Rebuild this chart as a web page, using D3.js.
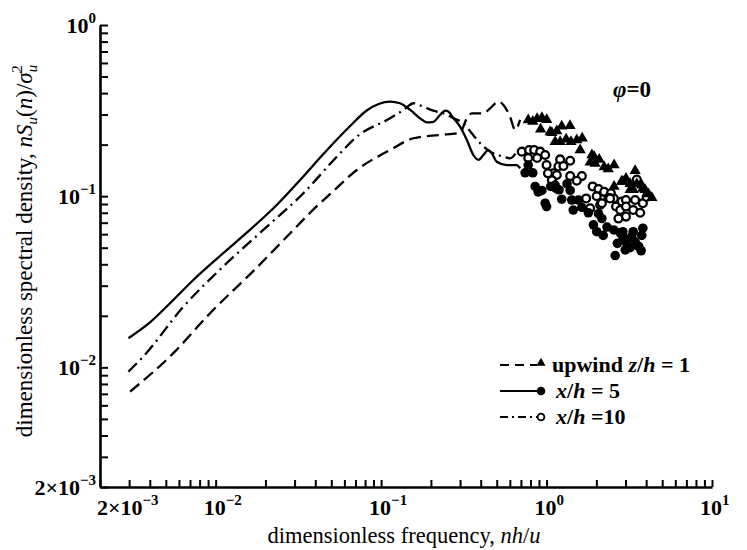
<!DOCTYPE html>
<html>
<head>
<meta charset="utf-8">
<script src="https://cdnjs.cloudflare.com/ajax/libs/d3/7.8.5/d3.min.js"></script>
<style>
  html, body { margin: 0; padding: 0; background: #fff; }
  svg { display: block; }
  text { font-family: "Liberation Serif", "DejaVu Serif", serif; fill: #000; }
</style>
</head>
<body>
<div id="chart"></div>
<script>
// ---- data (x = nh/u, y = nSu(n)/σu²) ----
const upwindLine = [
  [0.00304, 0.00721], [0.00555, 0.0121], [0.00925, 0.0207], [0.0175, 0.0378],
  [0.0282, 0.0607], [0.0372, 0.0800], [0.0515, 0.1072],
  [0.0713, 0.1422], [0.1133, 0.1862], [0.157, 0.218], [0.227, 0.228],
  [0.300, 0.235], [0.330, 0.285], [0.353, 0.305], [0.415, 0.305],
  [0.456, 0.326], [0.512, 0.357], [0.549, 0.341], [0.602, 0.291],
  [0.646, 0.244], [0.692, 0.279]
];
const x5Line = [
  [0.00297, 0.0148], [0.00401, 0.0183], [0.0053, 0.0237], [0.00733, 0.0324],
  [0.0111, 0.0464], [0.0161, 0.0635], [0.0234, 0.0888], [0.0324, 0.1243],
  [0.0448, 0.1764], [0.065, 0.257], [0.0819, 0.3167], [0.0966, 0.3455],
  [0.1133, 0.3565], [0.130, 0.349], [0.150, 0.319], [0.172, 0.285],
  [0.189, 0.270], [0.207, 0.272], [0.227, 0.298], [0.244, 0.316],
  [0.255, 0.312], [0.274, 0.285], [0.300, 0.255], [0.330, 0.213],
  [0.361, 0.174], [0.388, 0.163], [0.415, 0.174], [0.445, 0.186],
  [0.467, 0.178], [0.500, 0.159], [0.575, 0.152], [0.661, 0.152],
  [0.692, 0.1455]
];
const x10Line = [
  [0.00297, 0.00944], [0.00365, 0.01155], [0.00638, 0.0226], [0.0111, 0.0388],
  [0.0194, 0.0635], [0.0339, 0.104], [0.054, 0.170], [0.0713, 0.2226],
  [0.1133, 0.2851], [0.1364, 0.3188], [0.157, 0.349], [0.180, 0.333],
  [0.207, 0.3158], [0.238, 0.305], [0.274, 0.2851], [0.3144, 0.2666],
  [0.353, 0.233], [0.397, 0.2037], [0.456, 0.182], [0.549, 0.170],
  [0.602, 0.1665], [0.661, 0.182]
];
const upwindPts = [
  [0.775, 0.279], [0.826, 0.273], [0.877, 0.283], [0.937, 0.287], [1.003, 0.280],
  [0.921, 0.246], [1.077, 0.235], [1.153, 0.240], [1.235, 0.256], [1.386, 0.258],
  [1.127, 0.208], [1.208, 0.208], [1.313, 0.215], [1.405, 0.208], [1.523, 0.213],
  [1.642, 0.218], [1.596, 0.186], [1.835, 0.158], [1.94, 0.170], [2.08, 0.164],
  [1.967, 0.155], [2.23, 0.148], [2.36, 0.144], [2.56, 0.152], [3.43, 0.141],
  [2.89, 0.122], [3.02, 0.127], [3.20, 0.118], [3.51, 0.118], [3.76, 0.116],
  [3.94, 0.109], [4.13, 0.103], [4.33, 0.098], [2.56, 0.114], [3.34, 0.109],
  [3.20, 0.109], [3.82, 0.111], [2.84, 0.122], [1.051, 0.237], [1.88, 0.174]
];
const x5Pts = [
  [0.775, 0.152], [0.742, 0.137], [0.826, 0.137], [0.853, 0.114], [0.89, 0.106],
  [0.937, 0.108], [1.06, 0.114], [1.14, 0.111], [1.19, 0.109], [1.33, 0.118],
  [1.389, 0.108], [1.235, 0.096], [1.42, 0.095], [1.56, 0.095], [0.981, 0.091],
  [1.00, 0.087], [1.45, 0.083], [1.635, 0.086], [1.79, 0.080], [2.06, 0.079],
  [2.16, 0.074], [1.92, 0.068], [2.01, 0.062], [2.20, 0.059], [2.32, 0.066],
  [2.55, 0.0635], [2.79, 0.061], [2.68, 0.053], [2.89, 0.058], [3.02, 0.054],
  [3.27, 0.058], [3.43, 0.054], [3.60, 0.051], [3.76, 0.059], [3.82, 0.065],
  [3.20, 0.050], [2.99, 0.0485], [2.60, 0.045], [3.73, 0.048], [3.34, 0.062],
  [2.89, 0.062], [1.127, 0.116]
];
const x10Pts = [
  [0.708, 0.182], [0.785, 0.186], [0.842, 0.186], [0.915, 0.182], [0.981, 0.174],
  [0.775, 0.167], [0.877, 0.167], [1.00, 0.152], [1.208, 0.164], [1.389, 0.161],
  [1.18, 0.149], [1.265, 0.150], [1.10, 0.136], [1.153, 0.133], [1.389, 0.131],
  [1.635, 0.131], [1.523, 0.123], [1.077, 0.124], [1.90, 0.114], [2.06, 0.110],
  [2.23, 0.106], [2.45, 0.104], [2.01, 0.100], [2.37, 0.098], [2.55, 0.097],
  [1.735, 0.097], [2.109, 0.089], [1.835, 0.085], [2.63, 0.087], [2.85, 0.093],
  [3.02, 0.095], [3.43, 0.095], [3.82, 0.091], [2.79, 0.083], [3.02, 0.087],
  [3.34, 0.083], [3.68, 0.080], [3.02, 0.076], [2.72, 0.074], [3.51, 0.125],
  [4.03, 0.099], [1.02, 0.136], [2.16, 0.091], [2.42, 0.097]
];
const xTickLabels = [[2e-3, "2×10", "−3"], [1e-2, "10", "−2"], [1e-1, "10", "−1"], [1, "10", "0"], [10, "10", "1"]];
const yTickLabels = [[1, "10", "0"], [1e-1, "10", "−1"], [1e-2, "10", "−2"], [2e-3, "2×10", "−3"]];

const width = 747, height = 550;
const svg = d3.select("#chart").append("svg")
  .attr("width", width).attr("height", height);

const x = d3.scaleLog().domain([2e-3, 10]).range([100, 712]);
const y = d3.scaleLog().domain([2e-3, 1]).range([487, 25]);

// axes (ticks point inward)
const xAxis = svg.append("g")
  .attr("transform", `translate(0,${y(2e-3)})`)
  .call(d3.axisBottom(x).ticks(20).tickSizeInner(-7).tickSizeOuter(0).tickFormat(""));
const yAxis = svg.append("g")
  .attr("transform", `translate(${x(2e-3)},0)`)
  .call(d3.axisLeft(y).ticks(20).tickSizeInner(-8).tickSizeOuter(0).tickFormat(""));
[xAxis, yAxis].forEach(a => {
  a.select(".domain").attr("stroke", "#000").attr("stroke-width", 2.6);
  a.selectAll(".tick line").attr("stroke", "#000").attr("stroke-width", 2);
});

// tick labels with superscripts
xTickLabels.forEach(([v, base, exp], i) => {
  const t = svg.append("text")
    .attr("x", i === 0 ? x(v) - 3 : x(v) - 12)
    .attr("y", 515)
    .attr("font-size", 22).attr("font-weight", "bold");
  t.append("tspan").text(base);
  t.append("tspan").attr("dy", -10).attr("font-size", 15).text(exp);
});
yTickLabels.forEach(([v, base, exp]) => {
  const t = svg.append("text")
    .attr("x", 96)
    .attr("y", y(v) + 8)
    .attr("text-anchor", "end")
    .attr("font-size", 22).attr("font-weight", "bold");
  t.append("tspan").text(base);
  t.append("tspan").attr("dy", -10).attr("font-size", 15).text(exp);
});

// axis titles
const xt = svg.append("text")
  .attr("x", 404).attr("y", 543)
  .attr("text-anchor", "middle").attr("font-size", 22.5);
xt.append("tspan").text("dimensionless frequency, ");
xt.append("tspan").attr("font-style", "italic").text("nh");
xt.append("tspan").text("/");
xt.append("tspan").attr("font-style", "italic").text("u");

const yt = svg.append("text")
  .attr("transform", "translate(32,251) rotate(-90)")
  .attr("text-anchor", "middle").attr("font-size", 23);
yt.append("tspan").text("dimensionless spectral density, ");
yt.append("tspan").attr("font-style", "italic").text("nS");
yt.append("tspan").attr("font-style", "italic").attr("font-size", 15).attr("dy", 5).text("u");
yt.append("tspan").attr("dy", -5).text("(");
yt.append("tspan").attr("font-style", "italic").text("n");
yt.append("tspan").text(")/");
yt.append("tspan").attr("font-style", "italic").text("σ");
yt.append("tspan").attr("font-style", "italic").attr("font-size", 15).attr("dy", 5).text("u");
yt.append("tspan").attr("font-size", 15).attr("dx", -8).attr("dy", -15).text("2");

// phi label
const ph = svg.append("text")
  .attr("x", 613).attr("y", 97)
  .attr("font-size", 23).attr("font-weight", "bold");
ph.append("tspan").attr("font-style", "italic").text("φ");
ph.append("tspan").text("=0");

// curves
const line = d3.line().x(d => x(d[0])).y(d => y(d[1])).curve(d3.curveMonotoneX);
const series = [
  { data: upwindLine, dash: "12,6" },
  { data: x5Line, dash: null },
  { data: x10Line, dash: "12,5,2,5" }
];
series.forEach(s => {
  svg.append("path")
    .datum(s.data)
    .attr("d", line)
    .attr("fill", "none")
    .attr("stroke", "#000")
    .attr("stroke-width", 2.3)
    .attr("stroke-dasharray", s.dash);
});

// scatter
const tri = d3.symbol().type(d3.symbolTriangle).size(55);
svg.append("g").selectAll("circle")
  .data(x10Pts).join("circle")
  .attr("cx", d => x(d[0])).attr("cy", d => y(d[1]))
  .attr("r", 3.9).attr("fill", "#fff").attr("stroke", "#000").attr("stroke-width", 2.3);
svg.append("g").selectAll("circle")
  .data(x5Pts).join("circle")
  .attr("cx", d => x(d[0])).attr("cy", d => y(d[1]))
  .attr("r", 4.8).attr("fill", "#000");
svg.append("g").selectAll("path")
  .data(upwindPts).join("path")
  .attr("transform", d => `translate(${x(d[0])},${y(d[1])})`)
  .attr("d", tri).attr("fill", "#000");

// legend
const legend = [
  { dash: "9,6", marker: "tri", parts: [["upwind ", null], ["z", "italic"], ["/", null], ["h", "italic"], [" = 1", null]] },
  { dash: null, marker: "dot", parts: [["x", "italic"], ["/", null], ["h", "italic"], [" = 5", null]] },
  { dash: "8,4,2,4", marker: "ring", parts: [["x", "italic"], ["/", null], ["h", "italic"], [" =10", null]] }
];
legend.forEach((l, i) => {
  const ly = 365 + i * 26;
  svg.append("line")
    .attr("x1", 500).attr("x2", 537).attr("y1", ly).attr("y2", ly)
    .attr("stroke", "#000").attr("stroke-width", 2.2)
    .attr("stroke-dasharray", l.dash);
  if (l.marker === "tri") {
    svg.append("path").attr("transform", `translate(541,${ly - 2})`)
      .attr("d", d3.symbol().type(d3.symbolTriangle).size(36)).attr("fill", "#000");
  } else if (l.marker === "dot") {
    svg.append("circle").attr("cx", 541).attr("cy", ly).attr("r", 4.3).attr("fill", "#000");
  } else {
    svg.append("circle").attr("cx", 541).attr("cy", ly).attr("r", 3.4)
      .attr("fill", "#fff").attr("stroke", "#000").attr("stroke-width", 1.8);
  }
  const t = svg.append("text")
    .attr("x", i === 0 ? 552 : 556).attr("y", ly + 7)
    .attr("font-size", 22).attr("font-weight", "bold");
  l.parts.forEach(([s, st]) => {
    const sp = t.append("tspan").text(s);
    if (st) sp.attr("font-style", st);
  });
});
</script>
</body>
</html>
